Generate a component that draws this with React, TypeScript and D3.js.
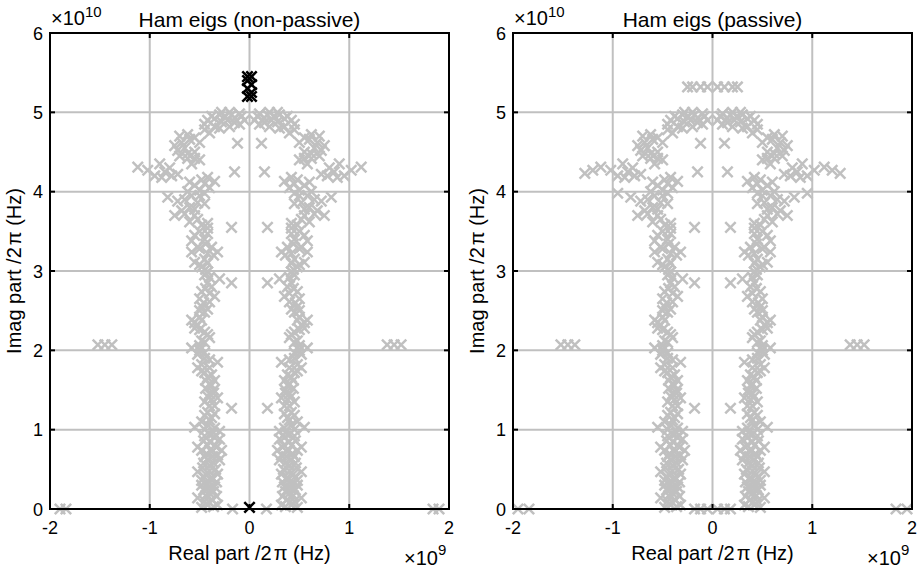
import React from 'react';
import * as d3 from 'd3';

// eigenvalues come in +/- real pairs, so only the right half (x >= 0) is listed
// units: real part in 1e9 Hz, imag part in 1e10 Hz
const chainHalf: [number, number][] = [
  // 0 - 1
  [0.36, 0.03], [0.42, 0.05], [0.45, 0.1], [0.38, 0.12], [0.52, 0.14], [0.4, 0.2], [0.46, 0.24],
  [0.35, 0.28], [0.42, 0.32], [0.48, 0.36], [0.38, 0.4], [0.44, 0.44], [0.52, 0.47], [0.34, 0.5],
  [0.4, 0.55], [0.46, 0.58], [0.3, 0.62], [0.37, 0.66], [0.43, 0.7], [0.28, 0.74], [0.52, 0.78],
  [0.35, 0.8], [0.4, 0.85], [0.3, 0.88], [0.45, 0.92], [0.36, 0.96],
  [0.32, 0.05], [0.48, 0.02], [0.4, 0.08], [0.33, 0.16], [0.44, 0.17], [0.36, 0.22], [0.42, 0.26],
  [0.48, 0.3], [0.33, 0.34], [0.38, 0.36], [0.45, 0.4], [0.32, 0.44], [0.4, 0.48], [0.47, 0.52],
  [0.36, 0.58], [0.42, 0.62], [0.32, 0.68], [0.45, 0.66], [0.38, 0.72], [0.48, 0.74], [0.33, 0.78],
  [0.42, 0.8], [0.46, 0.86], [0.35, 0.9], [0.4, 0.94], [0.3, 0.98], [0.45, 1.0], [0.35, 1.02],
  // 1 - 2
  [0.55, 1.03], [0.42, 1.06], [0.48, 1.1], [0.38, 1.15], [0.42, 1.22], [0.18, 1.27], [0.35, 1.3],
  [0.32, 1.4], [0.4, 1.45], [0.36, 1.5], [0.38, 1.56], [0.44, 1.62], [0.38, 1.69], [0.48, 1.74],
  [0.52, 1.78], [0.45, 1.9], [0.32, 1.85],
  [0.4, 1.12], [0.45, 1.18], [0.35, 1.2], [0.4, 1.3], [0.45, 1.35], [0.38, 1.38], [0.42, 1.42],
  [0.36, 1.46], [0.44, 1.52], [0.4, 1.58], [0.35, 1.62], [0.42, 1.66], [0.45, 1.72], [0.4, 1.78],
  [0.48, 1.82], [0.4, 1.88], [0.52, 1.95], [0.45, 1.97],
  // 2 - 3
  [0.58, 2.03], [0.5, 2.0], [0.45, 2.1], [0.4, 2.16], [0.45, 2.23], [0.55, 2.28], [0.58, 2.38],
  [0.5, 2.42], [0.45, 2.48], [0.48, 2.55], [0.4, 2.61], [0.35, 2.68], [0.48, 2.74], [0.38, 2.8],
  [0.18, 2.85], [0.3, 2.9], [0.42, 2.99],
  [0.5, 2.06], [0.48, 2.12], [0.42, 2.2], [0.5, 2.26], [0.52, 2.32], [0.55, 2.35], [0.48, 2.38],
  [0.5, 2.5], [0.42, 2.52], [0.46, 2.6], [0.5, 2.65], [0.4, 2.72], [0.44, 2.78], [0.42, 2.85],
  [0.4, 2.92], [0.45, 2.95],
  // 3 - 4
  [0.48, 3.05], [0.55, 3.11], [0.45, 3.15], [0.32, 3.24], [0.58, 3.24], [0.52, 3.3], [0.58, 3.38],
  [0.45, 3.4], [0.42, 3.47], [0.5, 3.5], [0.42, 3.54], [0.18, 3.55], [0.42, 3.6], [0.52, 3.65],
  [0.55, 3.7], [0.65, 3.72], [0.75, 3.7], [0.6, 3.8], [0.45, 3.85], [0.72, 3.88], [0.82, 3.93],
  [0.5, 3.95], [0.62, 4.0],
  [0.44, 3.02], [0.5, 3.08], [0.42, 3.1], [0.36, 3.2], [0.42, 3.22], [0.5, 3.28], [0.38, 3.3],
  [0.44, 3.34], [0.55, 3.45], [0.48, 3.58], [0.6, 3.62], [0.68, 3.76], [0.55, 3.78], [0.52, 3.86],
  [0.65, 3.9], [0.58, 3.95], [0.45, 3.98], [0.5, 4.02],
  // 4 - 5
  [0.4, 4.05], [0.55, 4.08], [0.35, 4.13], [0.48, 4.15], [0.15, 4.25], [0.78, 4.2], [0.85, 4.25],
  [0.95, 4.2], [0.8, 4.3], [1.02, 4.27], [1.12, 4.31], [0.9, 4.35], [0.5, 4.4], [0.62, 4.42],
  [0.7, 4.45], [0.55, 4.5], [0.65, 4.55], [0.75, 4.58], [0.5, 4.62], [0.6, 4.66], [0.7, 4.7],
  [0.12, 4.61], [0.4, 4.74], [0.35, 4.82], [0.2, 4.82], [0.1, 4.85], [0.28, 4.88], [0.05, 4.9],
  [0.15, 4.93], [0.25, 4.95], [0.1, 4.98], [0.2, 5.0], [0.42, 4.9], [0.3, 4.97],
  [0.45, 4.1], [0.6, 4.12], [0.42, 4.18], [0.72, 4.22], [0.88, 4.18], [0.58, 4.35], [0.55, 4.42],
  [0.62, 4.48], [0.72, 4.52], [0.68, 4.62], [0.55, 4.68], [0.62, 4.72], [0.45, 4.78], [0.3, 4.8],
  [0.15, 4.87], [0.22, 4.9], [0.35, 4.92], [0.08, 4.95], [0.18, 4.97], [0.28, 5.0], [0.38, 4.95],
  [0.45, 4.85],
  // isolated group
  [1.38, 2.07], [1.45, 2.07], [1.52, 2.07],
];

const nonPassiveExtraHalf: [number, number][] = [
  [0.17, 0], [1.84, 0], [1.9, 0],
];
const nonPassiveBlack: [number, number][] = [
  [0, 0.02], [-0.02, 5.2], [0.02, 5.25], [-0.02, 5.3], [0.02, 5.35], [-0.02, 5.4], [0.02, 5.45],
  [0.02, 5.2], [-0.02, 5.45],
];

const passiveExtraHalf: [number, number][] = [
  [0.05, 5.32], [0.12, 5.32], [0.2, 5.32], [0.25, 5.32],
  [1.2, 4.27], [1.28, 4.23], [0.95, 3.98],
  [0.05, 0], [0.12, 0], [0.18, 0], [1.84, 0], [1.95, 0],
];

const xTicks = [-2, -1, 0, 1, 2];
const yTicks = [0, 1, 2, 3, 4, 5, 6];

const mirror = (pts: [number, number][]) => pts.flatMap(([x, y]) => [[x, y], [-x, y]] as [number, number][]);

const FONT = '"Liberation Sans", Arial, Helvetica, sans-serif';
const GRAY = '#c0c0c0';

function Cross({ cx, cy, color }: { cx: number; cy: number; color: string }) {
  const r = 5.2;
  return (
    <path
      d={`M${cx - r},${cy - r}L${cx + r},${cy + r}M${cx - r},${cy + r}L${cx + r},${cy - r}`}
      stroke={color}
      strokeWidth={2.5}
      fill="none"
    />
  );
}

function Panel({ left, title, gray, black }: { left: number; title: string; gray: [number, number][]; black: [number, number][] }) {
  const top = 33, bottom = 509, width = 399;
  const x = d3.scaleLinear().domain([-2, 2]).range([left, left + width]);
  const y = d3.scaleLinear().domain([0, 6]).range([bottom, top]);
  const cxm = left + width / 2;
  return (
    <g fontFamily={FONT}>
      {xTicks.slice(1, -1).map((t) => (
        <line key={'gx' + t} x1={x(t)} x2={x(t)} y1={top} y2={bottom} stroke={GRAY} strokeWidth={2} />
      ))}
      {yTicks.slice(1, -1).map((t) => (
        <line key={'gy' + t} x1={left} x2={left + width} y1={y(t)} y2={y(t)} stroke={GRAY} strokeWidth={2} />
      ))}
      {gray.map(([a, b], i) => (
        <Cross key={'g' + i} cx={x(a)} cy={y(b)} color={GRAY} />
      ))}
      {black.map(([a, b], i) => (
        <Cross key={'b' + i} cx={x(a)} cy={y(b)} color="#000" />
      ))}
      <rect x={left} y={top} width={width} height={bottom - top} fill="none" stroke="#000" strokeWidth={2} />
      {xTicks.map((t) => (
        <g key={'tx' + t}>
          <line x1={x(t)} x2={x(t)} y1={bottom} y2={bottom - 5} stroke="#000" strokeWidth={2} />
          <line x1={x(t)} x2={x(t)} y1={top} y2={top + 5} stroke="#000" strokeWidth={2} />
          <text x={x(t)} y={bottom + 25} fontSize={18} textAnchor="middle">{t}</text>
        </g>
      ))}
      {yTicks.map((t) => (
        <g key={'ty' + t}>
          <line x1={left} x2={left + 5} y1={y(t)} y2={y(t)} stroke="#000" strokeWidth={2} />
          <line x1={left + width} x2={left + width - 5} y1={y(t)} y2={y(t)} stroke="#000" strokeWidth={2} />
          <text x={left - 7} y={y(t) + 6.5} fontSize={18} textAnchor="end">{t}</text>
        </g>
      ))}
      <text x={cxm} y={27} fontSize={21} textAnchor="middle">{title}</text>
      <text x={left + 1} y={25} fontSize={20}>
        ×10<tspan dy={-8} fontSize={15}>10</tspan>
      </text>
      <text x={cxm} y={560} fontSize={20} textAnchor="middle">
        Real part /2<tspan dx={2}>π</tspan> (Hz)
      </text>
      <text x={left + width - 45} y={565} fontSize={20}>
        ×10<tspan dy={-10} fontSize={15}>9</tspan>
      </text>
      <text transform={`translate(${left - 29},${(top + bottom) / 2}) rotate(-90)`} fontSize={20} textAnchor="middle">
        Imag part /2<tspan dx={2}>π</tspan> (Hz)
      </text>
    </g>
  );
}

export default function App() {
  const chain = mirror(chainHalf);
  const leftGray = [...chain, ...mirror(nonPassiveExtraHalf)];
  const rightGray = [...chain, ...mirror(passiveExtraHalf)];
  return (
    <div style={{ position: 'absolute', left: 0, top: 0 }}>
      <svg width={920} height={569} style={{ display: 'block', background: '#fff' }}>
        <Panel left={50} title="Ham eigs (non-passive)" gray={leftGray} black={nonPassiveBlack} />
        <Panel left={513} title="Ham eigs (passive)" gray={rightGray} black={[]} />
      </svg>
    </div>
  );
}
